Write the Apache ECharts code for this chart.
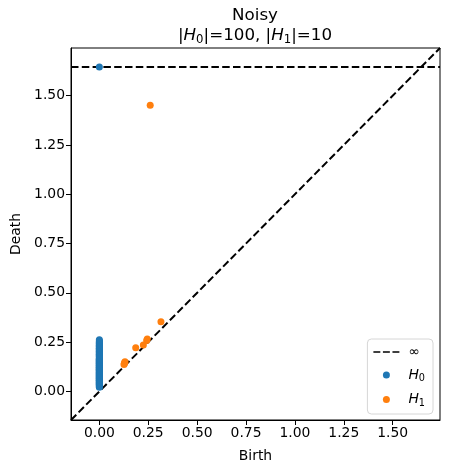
<!DOCTYPE html>
<html style="height:100%;width:100%;">
<head>
  <meta charset="utf-8">
  <title>Noisy persistence diagram</title>
  <script src="https://cdn.jsdelivr.net/npm/echarts@6/dist/echarts.min.js"></script>
</head>
<body style="margin:0px;height:100%;width:100%;background:#fff;">
  <div id="main" style="width:449px;height:473px"></div>
  <script type="text/javascript">
    // axis limits (same for birth & death) and the y used for infinite deaths
    var lims = [-0.145, 1.742];
    var infValue = 1.645;
    var tickValues = [0, 0.25, 0.5, 0.75, 1, 1.25, 1.5];
    var tickLabels = ['0.00', '0.25', '0.50', '0.75', '1.00', '1.25', '1.50'];

    // H0: all born at 0, one never dies
    var h0Births = 0;
    var h0Deaths = [0.021, 0.025, 0.028, 0.031, 0.034, 0.036, 0.039, 0.041, 0.044, 0.046,
      0.048, 0.051, 0.053, 0.055, 0.057, 0.059, 0.061, 0.063, 0.065, 0.067,
      0.069, 0.071, 0.073, 0.075, 0.077, 0.079, 0.081, 0.083, 0.085, 0.087,
      0.089, 0.091, 0.093, 0.095, 0.097, 0.099, 0.101, 0.103, 0.105, 0.107,
      0.109, 0.111, 0.113, 0.115, 0.117, 0.119, 0.121, 0.123, 0.125, 0.127,
      0.129, 0.131, 0.133, 0.135, 0.137, 0.139, 0.141, 0.143, 0.145, 0.147,
      0.149, 0.151, 0.153, 0.155, 0.157, 0.159, 0.161, 0.163, 0.165,
      0.168, 0.171, 0.174, 0.177, 0.180, 0.183, 0.186, 0.189, 0.192, 0.195,
      0.198, 0.201, 0.204, 0.207, 0.210, 0.213, 0.216, 0.219, 0.222, 0.225,
      0.228, 0.231, 0.234, 0.237, 0.240, 0.244, 0.248, 0.252, 0.256, 0.262];
    var h0InfCount = 1;

    // H1 pairs [birth, death]
    var h1Births = [0.260, 0.315, 0.245, 0.242, 0.225, 0.186, 0.131, 0.130, 0.128, 0.126];
    var h1Deaths = [1.452, 0.354, 0.266, 0.258, 0.235, 0.221, 0.150, 0.147, 0.142, 0.136];

    var C0 = '#1f77b4', C1 = '#ff7f0e';
    var FONT = 'DejaVu Sans';

    var h0Data = h0Deaths.map(function (d) { return [h0Births, d]; });
    for (var k = 0; k < h0InfCount; k++) h0Data.push([h0Births, infValue]);
    var h1Data = h1Births.map(function (b, i) { return [b, h1Deaths[i]]; });

    var richMath = {
      t: { fontFamily: FONT, fontSize: 13.9, color: '#000' },
      i: { fontFamily: FONT, fontSize: 13.9, fontStyle: 'italic', color: '#000' },
      s: { fontFamily: FONT, fontSize: 9.7, color: '#000', padding: [7, 0, 0, 0] }
    };
    var richTitle = {
      n: { fontFamily: FONT, fontSize: 16.7, color: '#000', lineHeight: 20 },
      t: { fontFamily: FONT, fontSize: 16.7, color: '#000', lineHeight: 20 },
      i: { fontFamily: FONT, fontSize: 16.7, fontStyle: 'italic', color: '#000', lineHeight: 20 },
      s: { fontFamily: FONT, fontSize: 11.7, color: '#000', padding: [8, 0, 0, 0] }
    };

    function axis(name, gap, pos) {
      return {
        type: 'value', min: lims[0], max: lims[1], position: pos,
        name: name, nameLocation: 'middle', nameGap: gap,
        nameTextStyle: { fontFamily: FONT, fontSize: 13.9, color: '#000' },
        splitLine: { show: false },
        axisLine: { show: true, onZero: false, lineStyle: { color: '#000', width: 1 } },
        axisTick: { show: true, length: 5, lineStyle: { color: '#000' }, customValues: tickValues },
        axisLabel: {
          fontFamily: FONT, fontSize: 13.9, color: '#000', margin: 6,
          customValues: tickValues,
          formatter: function (v) {
            var i = tickValues.indexOf(v);
            return i < 0 ? v.toFixed(2) : tickLabels[i];
          }
        }
      };
    }

    var myChart = echarts.init(document.getElementById('main'), null, { renderer: 'canvas' });
    var option = {
      animation: false,
      backgroundColor: '#fff',
      grid: {
        left: 71, right: 9, top: 48, bottom: 53, containLabel: false, outerBoundsMode: 'none',
        show: true, borderColor: '#000', borderWidth: 1, backgroundColor: 'transparent'
      },
      xAxis: axis('Birth', 29, 'bottom'),
      yAxis: axis('Death', 47, 'left'),
      graphic: [{
        type: 'text', x: 255, y: 6,
        style: {
          text: '{n|Noisy}\n{t||}{i|H}{s|0}{t||=100, |}{i|H}{s|1}{t||=10}',
          rich: richTitle, align: 'center'
        }
      }],
      legend: {
        orient: 'vertical', right: 16, bottom: 59,
        backgroundColor: 'rgba(255,255,255,0.8)', borderColor: '#d6d6d6', borderWidth: 1, borderRadius: 4,
        padding: [6, 8, 6, 6], itemGap: 9, itemWidth: 26, itemHeight: 7,
        data: [
          { name: 'inf', icon: 'path://M0,0h8v2h-8z M11,0h8v2h-8z M22,0h8v2h-8z', itemStyle: { color: '#000' } },
          { name: 'H0', icon: 'circle' },
          { name: 'H1', icon: 'circle' }
        ],
        formatter: function (name) {
          return { inf: '{t|∞}', H0: '{i|H}{s|0}', H1: '{i|H}{s|1}' }[name];
        },
        textStyle: { rich: richMath, padding: [0, 0, 0, 4] }
      },
      series: [
        {
          name: 'diag', type: 'line', symbol: 'none', silent: true, z: 1,
          data: [[lims[0], lims[0]], [lims[1], lims[1]]],
          lineStyle: { color: '#000', width: 2, type: [7.5, 3.3] }
        },
        {
          name: 'inf', type: 'line', symbol: 'none', silent: true, z: 2,
          data: [[lims[0], infValue], [lims[1], infValue]],
          lineStyle: { color: '#000', width: 2, type: [7.5, 3.3] },
          itemStyle: { color: '#000' }
        },
        {
          name: 'H0', type: 'scatter', symbolSize: 7, z: 3,
          itemStyle: { color: C0, opacity: 1 },
          data: h0Data
        },
        {
          name: 'H1', type: 'scatter', symbolSize: 7, z: 4,
          itemStyle: { color: C1, opacity: 1 },
          data: h1Data
        }
      ]
    };
    myChart.setOption(option);
  </script>
</body>
</html>
